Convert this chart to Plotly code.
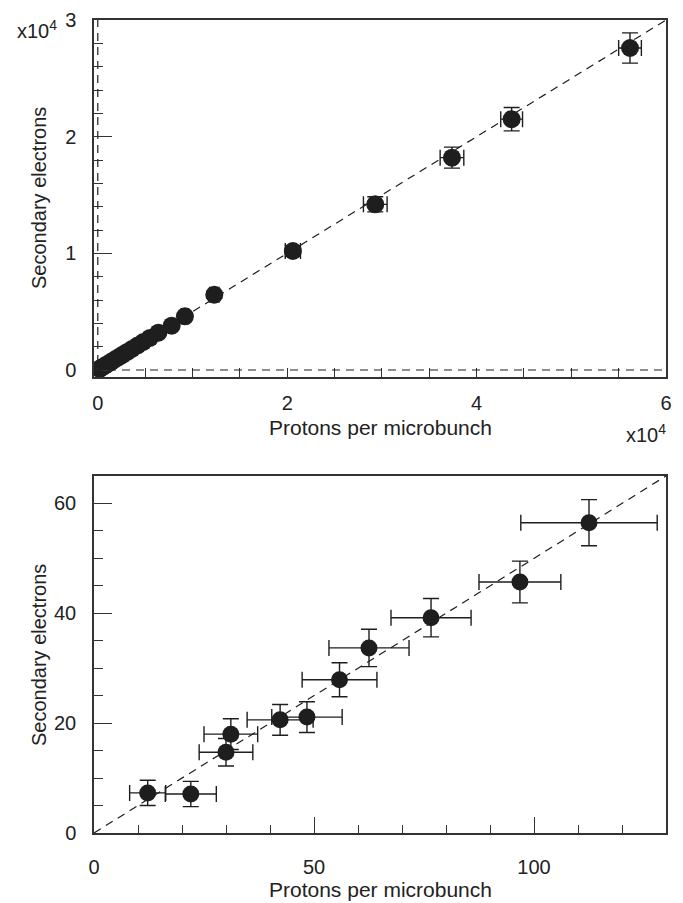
import plotly.graph_objects as go

# ---------------- data: top panel (raw counts) ----------------
top_protons = [56200, 43700, 37400, 29300, 20600, 12300, 9200, 7800, 6400, 5500,
               4800, 4200, 3600, 3100, 2600, 2200, 1800, 1400, 1000, 700, 400, 200]
top_electrons = [27600, 21500, 18200, 14200, 10200, 6450, 4600, 3800, 3200, 2750,
                 2400, 2100, 1800, 1550, 1300, 1100, 900, 700, 500, 350, 200, 100]
top_protons_err = [1200, 1150, 1250, 1250, 800, 500, 400, 300, 250, 220,
                   200, 170, 150, 130, 110, 90, 70, 60, 40, 30, 20, 10]
top_electrons_err = [1300, 1000, 900, 650, 450, 300, 220, 180, 150, 130,
                     110, 100, 90, 70, 60, 50, 40, 30, 25, 20, 10, 5]
top_fit_x = [0, 60000]
top_fit_y = [0, 30000]
top_xtick_vals = [0, 20000, 40000, 60000]
top_xtick_text = ["0", "2", "4", "6"]
top_ytick_vals = [0, 10000, 20000, 30000]
top_ytick_text = ["0", "1", "2", "3"]

# ---------------- data: bottom panel ----------------
bot_protons = [12.2, 22.0, 30.0, 31.1, 42.3, 48.4, 55.8, 62.5, 76.6, 96.8, 112.5]
bot_electrons = [7.3, 7.1, 14.7, 18.0, 20.6, 21.1, 27.9, 33.7, 39.2, 45.7, 56.5]
bot_protons_err = [4.1, 5.8, 6.1, 6.1, 7.5, 8.0, 8.5, 9.1, 9.1, 9.3, 15.5]
bot_electrons_err = [2.3, 2.3, 2.5, 2.8, 2.8, 2.8, 3.1, 3.4, 3.5, 3.8, 4.2]
bot_fit_x = [0, 130]
bot_fit_y = [0, 65]
bot_xtick_vals = [0, 50, 100]
bot_ytick_vals = [0, 20, 40, 60]

x_title = "Protons per microbunch"
y_title = "Secondary electrons"

W, H = 683, 903
INK = "#1e1e1e"
FONT = "Liberation Sans, Arial, sans-serif"

def px_x(p):
    return p / W

def px_y(p):
    return 1 - p / H

fig = go.Figure()

err_style = dict(color=INK, thickness=1.4, width=8)

# top panel
fig.add_trace(go.Scatter(x=top_fit_x, y=top_fit_y, mode="lines",
                         line=dict(color=INK, width=1.2, dash="8px,6px"),
                         xaxis="x", yaxis="y", hoverinfo="skip"))
fig.add_trace(go.Scatter(x=top_protons, y=top_electrons, mode="markers",
                         marker=dict(color=INK, size=18),
                         error_x=dict(type="data", array=top_protons_err, **err_style),
                         error_y=dict(type="data", array=top_electrons_err, **err_style),
                         xaxis="x", yaxis="y"))

# bottom panel
fig.add_trace(go.Scatter(x=bot_fit_x, y=bot_fit_y, mode="lines",
                         line=dict(color=INK, width=1.2, dash="8px,6px"),
                         xaxis="x2", yaxis="y2", hoverinfo="skip"))
fig.add_trace(go.Scatter(x=bot_protons, y=bot_electrons, mode="markers",
                         marker=dict(color=INK, size=17),
                         error_x=dict(type="data", array=bot_protons_err, **err_style),
                         error_y=dict(type="data", array=bot_electrons_err, **err_style),
                         xaxis="x2", yaxis="y2"))

tickfont = dict(family=FONT, size=20, color="#222")
axis_common = dict(showline=True, linecolor="#333", linewidth=1.5, mirror=True,
                   showgrid=False, zeroline=False, ticks="inside", tickcolor="#333",
                   tickwidth=1.3, tickfont=tickfont, tickmode="array",
                   automargin=False)

fig.update_layout(
    width=W, height=H, margin=dict(l=0, r=0, t=0, b=0, autoexpand=False),
    paper_bgcolor="white", plot_bgcolor="white", showlegend=False,
    xaxis=dict(domain=[px_x(94), px_x(666)], range=[-400, 60000], anchor="y",
               tickvals=top_xtick_vals, ticktext=top_xtick_text, ticklen=9,
               ticklabelstandoff=7,
               minor=dict(dtick=5000, tick0=0, ticks="inside", ticklen=9,
                          tickcolor="#333", tickwidth=1.2),
               **axis_common),
    yaxis=dict(domain=[px_y(377), px_y(20)], range=[-600, 30000], anchor="x",
               tickvals=top_ytick_vals, ticktext=top_ytick_text, ticklen=18,
               ticklabelstandoff=12,
               minor=dict(dtick=2000, tick0=0, ticks="inside", ticklen=9,
                          tickcolor="#333", tickwidth=1.2),
               **axis_common),
    xaxis2=dict(domain=[px_x(94), px_x(666)], range=[0, 130], anchor="y2",
                tickvals=bot_xtick_vals, ticklen=16, ticklabelstandoff=15,
                minor=dict(dtick=10, tick0=0, ticks="inside", ticklen=8,
                           tickcolor="#333", tickwidth=1.2),
                **axis_common),
    yaxis2=dict(domain=[px_y(833), px_y(476)], range=[0, 65], anchor="x2",
                tickvals=bot_ytick_vals, ticklen=18, ticklabelstandoff=12,
                minor=dict(dtick=5, tick0=0, ticks="inside", ticklen=9,
                           tickcolor="#333", tickwidth=1.2),
                **axis_common),
)

# dashed reference lines at zero in the top panel
fig.add_shape(type="line", xref="x domain", yref="y", x0=0, x1=1, y0=0, y1=0,
              line=dict(color=INK, width=1.2, dash="8px,6px"))
fig.add_shape(type="line", xref="x", yref="y domain", x0=0, x1=0, y0=0, y1=1,
              line=dict(color=INK, width=1.2, dash="8px,6px"))

xt_font = dict(family=FONT, size=21, color="#222")
yt_font = dict(family=FONT, size=20, color="#222")
ann = [
    dict(text=x_title, x=px_x(380), y=px_y(428), font=xt_font),
    dict(text=x_title, x=px_x(380), y=px_y(889), font=xt_font),
    dict(text=y_title, x=px_x(39), y=px_y(198), textangle=-90, font=yt_font),
    dict(text=y_title, x=px_x(39), y=px_y(655), textangle=-90, font=yt_font),
]
for a in ann:
    fig.add_annotation(xref="paper", yref="paper", showarrow=False,
                       xanchor="center", yanchor="middle", **a)

fig.add_annotation(text="x10<sup>4</sup>", xref="paper", yref="paper",
                   x=px_x(37), y=px_y(29), showarrow=False, xanchor="center",
                   yanchor="middle", font=yt_font)
fig.add_annotation(text="x10<sup>4</sup>", xref="paper", yref="paper",
                   x=px_x(668), y=px_y(433), showarrow=False, xanchor="right",
                   yanchor="middle", font=yt_font)

fig.write_html("out.html")
